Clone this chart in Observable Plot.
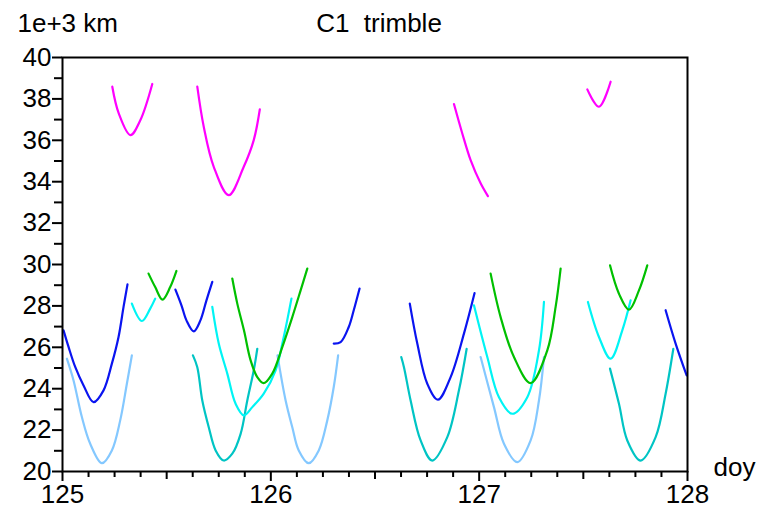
<!DOCTYPE html>
<html>
<head>
<meta charset="utf-8">
<script src="https://cdn.jsdelivr.net/npm/d3@7"></script>
<script src="https://cdn.jsdelivr.net/npm/@observablehq/plot@0.6"></script>
<style>
  html, body { margin: 0; padding: 0; background: #fff; }
  svg text { white-space: pre; }
</style>
</head>
<body>
<div id="chart"></div>
<script>
// ---- tick values ----
const doyTicks = [125, 126, 127, 128];
const doyHalfTicks = [125.5, 126.5, 127.5];
const doyMinorTicks = [125.125, 125.25, 125.375, 125.625, 125.75, 125.875,
  126.125, 126.25, 126.375, 126.625, 126.75, 126.875,
  127.125, 127.25, 127.375, 127.625, 127.75, 127.875];
const kmTicks = [20, 22, 24, 26, 28, 30, 32, 34, 36, 38, 40];
const kmMinorTicks = [21, 23, 25, 27, 29, 31, 33, 35, 37, 39];

// ---- series: each is a list of passes, each pass a list of [doy, 1e3 km] ----
const blueArcs = [
  [[125.005,26.82],[125.029,26.02],[125.061,25.05],[125.101,24.16],[125.149,23.35],[125.197,23.92],[125.237,25.21],[125.269,26.50],[125.293,27.95],[125.312,29.04]],
  [[125.542,28.79],[125.571,28.03],[125.595,27.30],[125.630,26.77],[125.662,27.30],[125.691,28.27],[125.719,29.16]],
  [[126.302,26.18],[126.335,26.25],[126.374,26.98],[126.398,27.79],[126.426,28.84]],
  [[126.667,28.11],[126.703,26.18],[126.751,24.24],[126.802,23.47],[126.863,24.56],[126.927,26.66],[126.978,28.62]],
  [[127.895,27.79],[127.943,26.18],[127.996,24.64]]
];
const lightBlueArcs = [
  [[125.021,25.45],[125.053,24.40],[125.093,22.63],[125.133,21.34],[125.189,20.40],[125.237,21.02],[125.277,22.47],[125.309,24.24],[125.333,25.61]],
  [[126.032,25.61],[126.071,23.43],[126.103,22.14],[126.134,21.02],[126.182,20.40],[126.230,21.02],[126.271,22.47],[126.302,24.08],[126.323,25.61]],
  [[127.007,25.53],[127.071,23.11],[127.119,21.34],[127.183,20.45],[127.247,21.50],[127.287,23.43],[127.311,25.53]]
];
const tealArcs = [
  [[125.626,25.61],[125.647,25.04],[125.671,23.43],[125.702,22.14],[125.735,21.02],[125.774,20.53],[125.815,20.86],[125.855,21.82],[125.887,23.43],[125.918,24.89],[125.935,25.93]],
  [[126.626,25.53],[126.639,25.04],[126.671,23.43],[126.719,21.50],[126.775,20.53],[126.847,21.66],[126.903,23.92],[126.940,25.93]],
  [[127.628,24.97],[127.671,23.27],[127.711,21.50],[127.775,20.53],[127.847,21.66],[127.895,23.76],[127.932,25.93]]
];
const cyanArcs = [
  [[125.333,28.11],[125.381,27.27],[125.421,27.87],[125.445,28.35]],
  [[125.719,27.95],[125.750,26.18],[125.791,24.73],[125.831,23.27],[125.871,22.71],[125.911,23.11],[125.966,23.76],[126.023,24.89],[126.062,26.50],[126.099,28.35]],
  [[126.975,28.03],[127.039,25.53],[127.095,23.59],[127.159,22.79],[127.231,23.59],[127.287,25.85],[127.311,28.19]],
  [[127.522,28.19],[127.575,26.50],[127.631,25.45],[127.687,26.82],[127.727,28.27]]
];
const greenArcs = [
  [[125.413,29.56],[125.445,28.91],[125.480,28.30],[125.517,28.91],[125.547,29.69]],
  [[125.815,29.32],[125.839,28.11],[125.871,26.82],[125.903,25.37],[125.935,24.56],[125.966,24.27],[126.007,24.73],[126.055,26.01],[126.103,27.46],[126.143,28.75],[126.175,29.80]],
  [[127.055,29.56],[127.103,27.46],[127.167,25.53],[127.247,24.27],[127.327,25.85],[127.367,27.95],[127.391,29.80]],
  [[127.628,29.96],[127.671,28.59],[127.719,27.82],[127.767,28.75],[127.807,29.96]]
];
const magentaArcs = [
  [[125.239,38.59],[125.270,37.30],[125.326,36.25],[125.374,36.98],[125.431,38.72]],
  [[125.647,38.59],[125.678,36.65],[125.726,34.72],[125.798,33.35],[125.870,34.72],[125.918,36.01],[125.947,37.49]],
  [[126.879,37.75],[126.919,36.33],[126.959,35.04],[127.007,33.92],[127.042,33.30]],
  [[127.519,38.46],[127.575,37.62],[127.631,38.83]]
];

const seriesNames = ["lightblue", "teal", "cyan", "green", "blue", "magenta"];
const seriesColors = ["#84c8ff", "#00c4c4", "#00f4f4", "#00c000", "#0a14f0", "#ff00ff"];
const seriesArcs = [lightBlueArcs, tealArcs, cyanArcs, greenArcs, blueArcs, magentaArcs];

function rowsOf(arcs, name) {
  const rows = [];
  arcs.forEach((arc, i) => arc.forEach(([doy, km]) => rows.push({doy, km, pass: name + i})));
  return rows;
}

const font = "'Liberation Sans', Arial, sans-serif";
const fs = 26;

const lineMarks = seriesArcs.map((arcs, k) =>
  Plot.line(rowsOf(arcs, seriesNames[k]), {
    x: "doy", y: "km", z: "pass",
    stroke: seriesColors[k], strokeWidth: 2.2, curve: "catmull-rom"
  })
);

const chart = Plot.plot({
  width: 759,
  height: 511,
  marginLeft: 62,
  marginRight: 72,
  marginTop: 57,
  marginBottom: 40,
  style: { fontFamily: font, fontSize: fs + "px", color: "#000", background: "#fff" },
  x: { domain: [125, 128], label: null },
  y: { domain: [20, 40], label: null },
  marks: [
    ...lineMarks,
    Plot.frame({ stroke: "#000", strokeWidth: 2 }),
    Plot.axisY(kmTicks, { tickSize: 10, tickPadding: 1, strokeWidth: 2, fontSize: fs, tickFormat: d => String(d) }),
    Plot.axisY(kmMinorTicks, { tickSize: 8, strokeWidth: 2, tickFormat: () => "" }),
    Plot.axisX(doyTicks, { tickSize: 10, tickPadding: 3, strokeWidth: 2, fontSize: fs, tickFormat: d => String(d) }),
    Plot.axisX(doyHalfTicks, { tickSize: 8, strokeWidth: 2, tickFormat: () => "" }),
    Plot.axisX(doyMinorTicks, { tickSize: 6, strokeWidth: 2, tickFormat: () => "" }),
    Plot.text(["C1  trimble"], { frameAnchor: "top", lineAnchor: "top", text: d => d, dx: 4, dy: -44, fontSize: fs, fill: "#000" }),
    Plot.text(["1e+3 km"], { frameAnchor: "top-left", lineAnchor: "top", text: d => d, textAnchor: "start", dx: -45, dy: -44, fontSize: fs, fill: "#000" }),
    Plot.text(["doy"], { frameAnchor: "bottom-right", lineAnchor: "bottom", text: d => d, textAnchor: "start", dx: 26, dy: 4, fontSize: fs, fill: "#000" })
  ]
});
document.getElementById("chart").appendChild(chart);
</script>
</body>
</html>
